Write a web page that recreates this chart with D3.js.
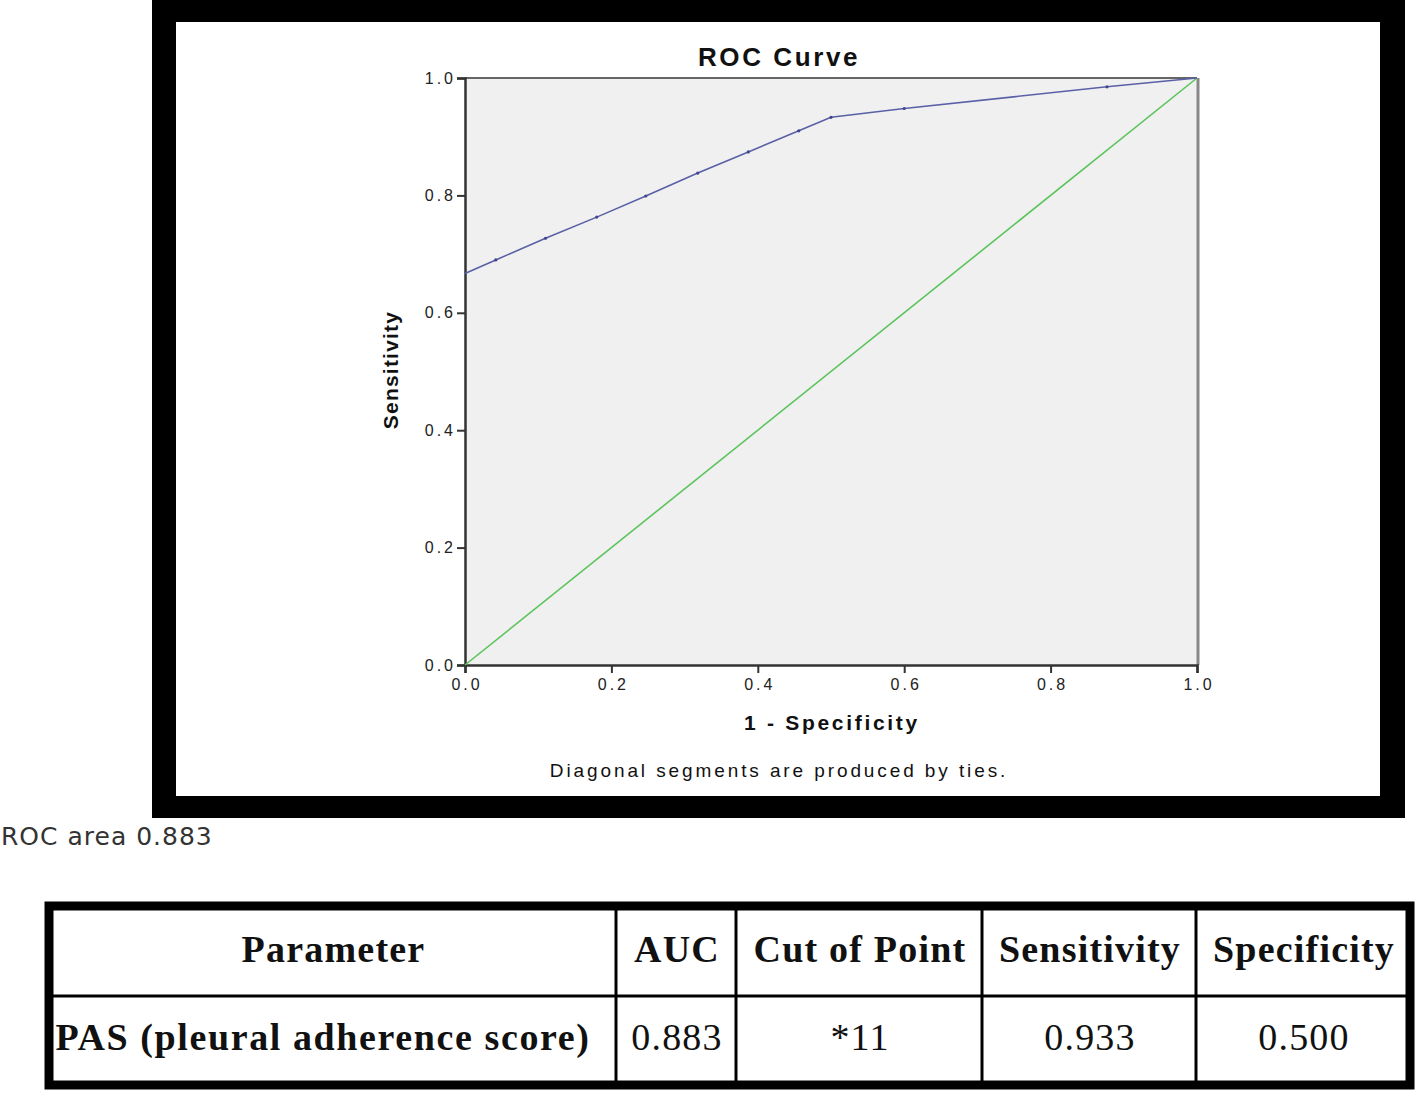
<!DOCTYPE html>
<html lang="en">
<head>
    <meta charset="UTF-8">
    <title>ROC Curve</title>
    <script src="https://cdn.jsdelivr.net/npm/d3@7"></script>
    <style>
        body { margin: 0; background: #fff; }
        svg { display: block; }
    </style>
</head>
<body>
    <div id="chart"></div>

    <script>
        // ROC curve points (1 - specificity, sensitivity)
        const fpr = [0, 0.042, 0.11, 0.18, 0.247, 0.318, 0.387, 0.456, 0.5, 0.6, 0.877, 1];
        const sensitivity = [0.667, 0.69, 0.727, 0.763, 0.799, 0.838, 0.874, 0.91, 0.933, 0.948, 0.985, 1];
        const refX = [0, 1];
        const refY = [0, 1];
        const tickValues = [0, 0.2, 0.4, 0.6, 0.8, 1.0];

        // summary table
        const tableHeaders = ["Parameter", "AUC", "Cut of Point", "Sensitivity", "Specificity"];
        const tableRow = ["PAS (pleural adherence score)", "0.883", "*11", "0.933", "0.500"];
        const rocArea = "ROC area 0.883";

        const W = 1418, H = 1093;
        const svg = d3.select("#chart").append("svg")
            .attr("width", W)
            .attr("height", H);

        // black frame around the SPSS chart
        svg.append("rect").attr("x", 152).attr("y", 0).attr("width", 1253).attr("height", 818).attr("fill", "#000");
        svg.append("rect").attr("x", 176).attr("y", 22).attr("width", 1204).attr("height", 774).attr("fill", "#fff");

        const plot = { left: 465, right: 1197, top: 78, bottom: 665 };
        const x = d3.scaleLinear().domain([0, 1]).range([plot.left, plot.right]);
        const y = d3.scaleLinear().domain([0, 1]).range([plot.bottom, plot.top]);

        svg.append("rect")
            .attr("x", plot.left).attr("y", plot.top)
            .attr("width", plot.right - plot.left).attr("height", plot.bottom - plot.top)
            .attr("fill", "#f0f0f0");

        // top and right frame of the plot
        svg.append("line").attr("x1", plot.left).attr("x2", plot.right).attr("y1", plot.top).attr("y2", plot.top)
            .attr("stroke", "#666").attr("stroke-width", 2);
        svg.append("line").attr("x1", plot.right + 1).attr("x2", plot.right + 1).attr("y1", plot.top).attr("y2", plot.bottom)
            .attr("stroke", "#888").attr("stroke-width", 3);

        const tickFont = "'Liberation Sans', Arial, sans-serif";

        const yAxis = svg.append("g")
            .attr("transform", `translate(${plot.left},0)`)
            .call(d3.axisLeft(y).tickValues(tickValues).tickFormat(d3.format(".1f")).tickSize(8).tickPadding(4));
        const xAxis = svg.append("g")
            .attr("transform", `translate(0,${plot.bottom})`)
            .call(d3.axisBottom(x).tickValues(tickValues).tickFormat(d3.format(".1f")).tickSize(8).tickPadding(6));

        [yAxis, xAxis].forEach(ax => {
            ax.select(".domain").attr("stroke", "#333").attr("stroke-width", 2.5);
            ax.selectAll(".tick line").attr("stroke", "#333").attr("stroke-width", 2);
            ax.selectAll(".tick text")
                .attr("fill", "#222")
                .style("font-family", tickFont)
                .style("font-size", "16px")
                .style("letter-spacing", "3px");
        });
        yAxis.selectAll(".tick text").attr("dx", "3px");
        xAxis.selectAll(".tick text").attr("dx", "1.5px");

        // reference diagonal
        const line = d3.line().x(d => x(d[0])).y(d => y(d[1]));
        svg.append("path")
            .datum(d3.zip(refX, refY))
            .attr("d", line)
            .attr("fill", "none")
            .attr("stroke", "#5cc45c")
            .attr("stroke-width", 1.6);

        // ROC curve
        const rocPts = d3.zip(fpr, sensitivity);
        svg.append("path")
            .datum(rocPts)
            .attr("d", line)
            .attr("fill", "none")
            .attr("stroke", "#5a60a6")
            .attr("stroke-width", 1.6);
        svg.append("g").selectAll("circle")
            .data(rocPts.slice(1, -1))
            .join("circle")
            .attr("cx", d => x(d[0]))
            .attr("cy", d => y(d[1]))
            .attr("r", 1.6)
            .attr("fill", "#3f4590");

        // titles
        svg.append("text")
            .attr("x", 779).attr("y", 66)
            .attr("text-anchor", "middle")
            .style("font-family", tickFont)
            .style("font-weight", "bold")
            .style("font-size", "26px")
            .style("letter-spacing", "2.6px")
            .attr("fill", "#111")
            .text("ROC Curve");

        svg.append("text")
            .attr("transform", `translate(398,370) rotate(-90)`)
            .attr("text-anchor", "middle")
            .style("font-family", tickFont)
            .style("font-weight", "bold")
            .style("font-size", "21px")
            .style("letter-spacing", "1.2px")
            .attr("fill", "#111")
            .text("Sensitivity");

        svg.append("text")
            .attr("x", 832).attr("y", 730)
            .attr("text-anchor", "middle")
            .style("font-family", tickFont)
            .style("font-weight", "bold")
            .style("font-size", "21px")
            .style("letter-spacing", "2.7px")
            .attr("fill", "#111")
            .text("1 - Specificity");

        svg.append("text")
            .attr("x", 779).attr("y", 777)
            .attr("text-anchor", "middle")
            .style("font-family", tickFont)
            .style("font-size", "19px")
            .style("letter-spacing", "2.9px")
            .attr("fill", "#111")
            .text("Diagonal segments are produced by ties.");

        svg.append("text")
            .attr("x", 1).attr("y", 845)
            .style("font-family", "'DejaVu Sans', sans-serif")
            .style("font-size", "25px")
            .style("letter-spacing", "1px")
            .attr("fill", "#333")
            .text(rocArea);

        // table
        const colEdges = [49, 616, 736, 982, 1196, 1410];
        const rowEdges = [906, 996, 1085];
        const tbl = svg.append("g");

        tbl.selectAll("line.col")
            .data(colEdges.slice(1, -1))
            .join("line")
            .attr("class", "col")
            .attr("x1", d => d).attr("x2", d => d)
            .attr("y1", rowEdges[0]).attr("y2", rowEdges[2])
            .attr("stroke", "#000").attr("stroke-width", 3);
        tbl.append("line")
            .attr("x1", colEdges[0]).attr("x2", colEdges[5])
            .attr("y1", rowEdges[1]).attr("y2", rowEdges[1])
            .attr("stroke", "#000").attr("stroke-width", 3);
        tbl.append("rect")
            .attr("x", colEdges[0]).attr("y", rowEdges[0])
            .attr("width", colEdges[5] - colEdges[0]).attr("height", rowEdges[2] - rowEdges[0])
            .attr("fill", "none").attr("stroke", "#000").attr("stroke-width", 9);

        const serif = "'Liberation Serif', 'Times New Roman', serif";
        tableHeaders.forEach((h, i) => {
            tbl.append("text")
                .attr("x", (colEdges[i] + colEdges[i + 1]) / 2 + 1)
                .attr("y", 962)
                .attr("text-anchor", "middle")
                .style("font-family", serif)
                .style("font-weight", "bold")
                .style("font-size", "38px")
                .style("letter-spacing", "1.2px")
                .attr("fill", "#111")
                .text(h);
        });
        tableRow.forEach((v, i) => {
            tbl.append("text")
                .attr("x", i === 0 ? 323 : (colEdges[i] + colEdges[i + 1]) / 2 + 1)
                .attr("y", 1050)
                .attr("text-anchor", "middle")
                .style("font-family", serif)
                .style("font-weight", i === 0 ? "bold" : "normal")
                .style("font-size", "38px")
                .style("letter-spacing", i === 0 ? "1.6px" : "1.2px")
                .attr("fill", "#111")
                .text(v);
        });
    </script>
</body>
</html>
